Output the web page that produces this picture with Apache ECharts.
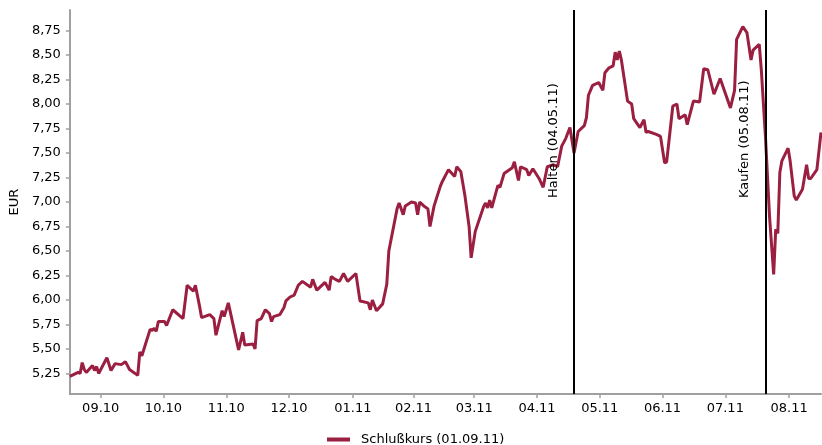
<!DOCTYPE html>
<html><head><meta charset="utf-8">
<script src="https://cdn.jsdelivr.net/npm/echarts@6/dist/echarts.min.js"></script>
<style>html,body{margin:0;padding:0;background:#fff}#c{width:822px;height:445px}</style>
</head><body><div id="c"></div>
<script>
const dates = [
'2010-09-01','2010-09-05','2010-09-06','2010-09-07','2010-09-08','2010-09-09','2010-09-12','2010-09-13','2010-09-14','2010-09-15',
'2010-09-19','2010-09-21','2010-09-23','2010-09-26','2010-09-28','2010-09-30','2010-10-04','2010-10-05','2010-10-06','2010-10-10',
'2010-10-11','2010-10-12','2010-10-13','2010-10-14','2010-10-17','2010-10-18','2010-10-21','2010-10-26','2010-10-28','2010-10-31',
'2010-11-01','2010-11-03','2010-11-04','2010-11-08','2010-11-10','2010-11-11','2010-11-14','2010-11-15','2010-11-17','2010-11-22',
'2010-11-24','2010-11-25','2010-11-29','2010-11-30','2010-12-01','2010-12-03','2010-12-05','2010-12-07','2010-12-08','2010-12-09',
'2010-12-12','2010-12-14','2010-12-15','2010-12-17','2010-12-19','2010-12-21','2010-12-23','2010-12-27','2010-12-28','2010-12-30',
'2011-01-03','2011-01-05','2011-01-06','2011-01-08','2011-01-10','2011-01-12','2011-01-14','2011-01-18','2011-01-20','2011-01-24',
'2011-01-25','2011-01-26','2011-01-28','2011-01-31','2011-02-02','2011-02-03','2011-02-07','2011-02-08','2011-02-10','2011-02-11',
'2011-02-14','2011-02-16','2011-02-17','2011-02-18','2011-02-20','2011-02-22','2011-02-23','2011-02-25','2011-02-28','2011-03-01',
'2011-03-04','2011-03-07','2011-03-08','2011-03-10','2011-03-12','2011-03-14','2011-03-15','2011-03-17','2011-03-21','2011-03-22',
'2011-03-23','2011-03-24','2011-03-25','2011-03-28','2011-03-29','2011-03-31','2011-04-04','2011-04-05','2011-04-07','2011-04-08',
'2011-04-11','2011-04-12','2011-04-14','2011-04-17','2011-04-19','2011-04-21','2011-04-24','2011-04-26','2011-04-28','2011-04-30',
'2011-05-02','2011-05-04','2011-05-06','2011-05-09','2011-05-10','2011-05-11','2011-05-13','2011-05-16','2011-05-18','2011-05-19',
'2011-05-21','2011-05-23','2011-05-24','2011-05-25','2011-05-26','2011-05-27','2011-05-30','2011-06-01','2011-06-02','2011-06-05',
'2011-06-07','2011-06-08','2011-06-09','2011-06-13','2011-06-15','2011-06-17','2011-06-18','2011-06-21','2011-06-23','2011-06-24',
'2011-06-27','2011-06-28','2011-07-01','2011-07-04','2011-07-06','2011-07-08','2011-07-11','2011-07-14','2011-07-19','2011-07-21',
'2011-07-22','2011-07-25','2011-07-27','2011-07-29','2011-07-30','2011-08-02','2011-08-03','2011-08-04','2011-08-05','2011-08-07',
'2011-08-09','2011-08-10','2011-08-11','2011-08-12','2011-08-13','2011-08-16','2011-08-17','2011-08-19','2011-08-20','2011-08-23',
'2011-08-25','2011-08-26','2011-08-27','2011-08-30','2011-09-01'
];
const closes = [
5.22,5.26,5.25,5.36,5.29,5.26,5.33,5.28,5.32,5.25,
5.41,5.28,5.35,5.34,5.37,5.29,5.23,5.47,5.43,5.70,
5.69,5.71,5.68,5.78,5.78,5.74,5.90,5.81,6.15,6.09,
6.15,5.94,5.82,5.85,5.81,5.64,5.89,5.83,5.97,5.49,
5.67,5.54,5.55,5.50,5.79,5.81,5.90,5.86,5.78,5.83,
5.85,5.92,5.99,6.03,6.05,6.15,6.19,6.13,6.21,6.10,
6.18,6.10,6.24,6.21,6.19,6.27,6.19,6.27,5.99,5.97,
5.90,6.00,5.89,5.96,6.16,6.50,6.93,6.99,6.87,6.96,
7.00,6.99,6.87,7.00,6.96,6.93,6.75,6.96,7.16,7.21,
7.33,7.26,7.36,7.31,7.06,6.75,6.43,6.70,6.95,6.99,
6.94,7.02,6.94,7.17,7.15,7.29,7.35,7.41,7.22,7.36,
7.33,7.27,7.34,7.24,7.15,7.36,7.38,7.36,7.57,7.65,
7.76,7.50,7.72,7.78,7.86,8.09,8.19,8.22,8.14,8.32,
8.37,8.39,8.53,8.45,8.54,8.45,8.03,8.00,7.85,7.76,
7.84,7.71,7.72,7.69,7.67,7.40,7.41,7.98,8.00,7.85,
7.89,7.79,8.03,8.02,8.36,8.35,8.10,8.26,7.96,8.14,
8.66,8.79,8.73,8.45,8.55,8.61,8.35,8.01,7.67,6.85,
6.26,6.72,6.68,7.30,7.42,7.55,7.42,7.06,7.02,7.13,
7.38,7.24,7.24,7.33,7.71
];
const xTickLabels = ['09.10','10.10','11.10','12.10','01.11','02.11','03.11','04.11','05.11','06.11','07.11','08.11'];
const yTickLabels = ['5,25','5,50','5,75','6,00','6,25','6,50','6,75','7,00','7,25','7,50','7,75','8,00','8,25','8,50','8,75'];
const seriesName = 'Schlußkurs (01.09.11)';
const signalDates = ['2011-05-04','2011-08-05'];
const signalLabels = ['Halten (04.05.11)','Kaufen (05.08.11)'];
const yName = 'EUR';

const FONT = 'DejaVu Sans';
function ts(s){ const p = s.split('-').map(Number); return new Date(p[0], p[1]-1, p[2]).getTime(); }
function monthMid(label){ const m = +label.slice(0,2), y = 2000 + (+label.slice(3)); return (new Date(y, m-1, 1).getTime() + new Date(y, m, 1).getTime()) / 2; }
const xTickValues = xTickLabels.map(monthMid);
const yTickValues = yTickLabels.map(s => parseFloat(s.replace(',', '.')));
const seriesData = dates.map((d, i) => [ts(d), closes[i]]);

const axisColor = '#a0a0a0';
const chart = echarts.init(document.getElementById('c'), null, {renderer: 'canvas'});
chart.setOption({
  animation: false,
  textStyle: {fontFamily: FONT},
  grid: {left: 67, right: 1, top: 10, bottom: 51},
  xAxis: {
    type: 'value', min: 'dataMin', max: 'dataMax', scale: true,
    axisLine: {lineStyle: {color: axisColor, width: 2}},
    axisTick: {show: true, length: 4, lineStyle: {color: axisColor, width: 1.5}, customValues: xTickValues},
    axisLabel: {customValues: xTickValues, margin: 8, fontSize: 13, color: '#000', fontFamily: FONT,
      formatter: function(v){ for (let i = 0; i < xTickValues.length; i++) { if (Math.abs(xTickValues[i] - v) < 3600000) return xTickLabels[i]; } return ''; }},
    splitLine: {show: false}
  },
  yAxis: {
    type: 'value', min: 5.04, max: 8.96,
    name: yName, nameLocation: 'middle', nameGap: 43,
    nameTextStyle: {fontSize: 13, color: '#000', fontFamily: FONT},
    axisLine: {show: true, lineStyle: {color: axisColor, width: 2}},
    axisTick: {show: true, length: 4, lineStyle: {color: axisColor, width: 1.5}, customValues: yTickValues},
    axisLabel: {customValues: yTickValues, margin: 9, fontSize: 13, color: '#000', fontFamily: FONT,
      formatter: function(v){ for (let i = 0; i < yTickValues.length; i++) { if (Math.abs(yTickValues[i] - v) < 1e-6) return yTickLabels[i]; } return ''; }},
    splitLine: {show: false}
  },
  legend: {
    left: 322, top: 428, icon: 'rect', itemWidth: 23, itemHeight: 4,
    textStyle: {fontSize: 13, color: '#000', fontFamily: FONT, padding: [0, 0, 0, 6]},
    data: [seriesName]
  },
  series: [{
    name: seriesName, type: 'line', data: seriesData,
    showSymbol: false, symbol: 'none',
    lineStyle: {color: '#9b1f40', width: 3},
    itemStyle: {color: '#9b1f40'},
    markLine: {
      silent: true, symbol: ['none', 'none'], animation: false,
      lineStyle: {color: '#000', width: 2, type: 'solid'},
      emphasis: {disabled: true},
      label: {show: true, position: 'insideStartTop', distance: [196, 14], fontSize: 13, color: '#000', fontFamily: FONT},
      data: signalDates.map((d, i) => ({xAxis: ts(d), label: {formatter: signalLabels[i]}}))
    }
  }]
});
</script></body></html>
